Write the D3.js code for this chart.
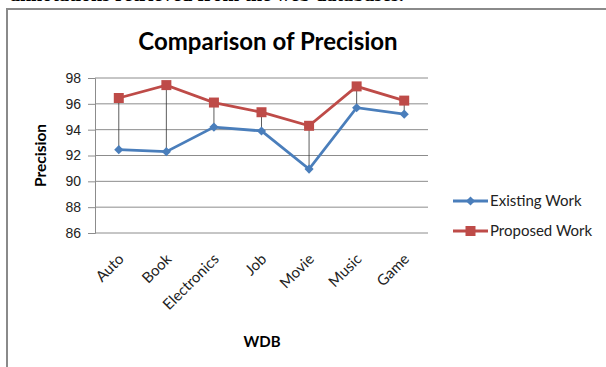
<!doctype html>
<html>
<head>
<meta charset="utf-8">
<script src="https://d3js.org/d3.v7.min.js"></script>
<style>
  body { margin: 0; background: #fff; }
  svg { display: block; font-family: Lato, "Open Sans", sans-serif; }
</style>
</head>
<body>
<svg width="606" height="367"></svg>
<script>
var categories = ["Auto", "Book", "Electronics", "Job", "Movie", "Music", "Game"];
var existing = [92.45, 92.3, 94.2, 93.9, 90.95, 95.7, 95.2];
var proposed = [96.45, 97.45, 96.1, 95.35, 94.3, 97.35, 96.25];
var yTicks = [86, 88, 90, 92, 94, 96, 98];

var svg = d3.select("svg");

// frame of the figure (cut from a page)
svg.append("text")
    .attr("x", 10).attr("y", 1)
    .style("font-family", "'Liberation Serif', serif")
    .style("font-size", "20px")
    .style("font-weight", "bold")
    .text("annotations retrieved from the web databases.");
svg.append("path")
    .attr("d", "M7,367V9H606")
    .attr("fill", "none")
    .attr("stroke", "#8a8a8a")
    .attr("stroke-width", 2);

var plotLeft = 95, plotRight = 428, plotTop = 78, plotBottom = 233;

var x = d3.scaleBand().domain(categories).range([plotLeft, plotRight]);
var y = d3.scaleLinear().domain([86, 98]).range([plotBottom, plotTop]);

// title
svg.append("text")
    .attr("x", 268).attr("y", 50)
    .attr("text-anchor", "middle")
    .style("font-size", "24px")
    .style("font-weight", "bold")
    .text("Comparison of Precision");

// gridlines
svg.append("g").selectAll("line")
  .data(yTicks)
  .join("line")
    .attr("x1", plotLeft).attr("x2", plotRight)
    .attr("y1", function(d) { return y(d); })
    .attr("y2", function(d) { return y(d); })
    .attr("stroke", "#8c8c8c")
    .attr("stroke-width", 1);

// y axis
var yAxis = svg.append("g")
    .attr("transform", "translate(" + plotLeft + ",0)")
    .call(d3.axisLeft(y).tickValues(yTicks).tickSize(7).tickPadding(7));
yAxis.select(".domain").attr("stroke", "#8c8c8c");
yAxis.selectAll(".tick line").attr("stroke", "#8c8c8c");
yAxis.selectAll("text").style("font-size", "14px").attr("fill", "#222");

svg.append("text")
    .attr("transform", "translate(46," + ((plotTop + plotBottom) / 2) + ") rotate(-90)")
    .attr("text-anchor", "middle")
    .style("font-size", "15.5px")
    .style("font-weight", "bold")
    .text("Precision");

// x labels
svg.append("g").selectAll("text")
  .data(categories)
  .join("text")
    .attr("transform", function(d) {
      return "translate(" + (x(d) + x.bandwidth() / 2 + 6) + "," + (plotBottom + 27) + ") rotate(-45)";
    })
    .attr("text-anchor", "end")
    .style("font-size", "15px")
    .attr("fill", "#222")
    .text(function(d) { return d; });

svg.append("text")
    .attr("x", 262).attr("y", 347)
    .attr("text-anchor", "middle")
    .style("font-size", "15px")
    .style("font-weight", "bold")
    .text("WDB");

var cx = function(i) { return x(categories[i]) + x.bandwidth() / 2; };

// high-low lines
svg.append("g").selectAll("line")
  .data(categories)
  .join("line")
    .attr("x1", function(d, i) { return cx(i); })
    .attr("x2", function(d, i) { return cx(i); })
    .attr("y1", function(d, i) { return y(proposed[i]); })
    .attr("y2", function(d, i) { return y(existing[i]); })
    .attr("stroke", "#333")
    .attr("stroke-width", 0.8);

var line = d3.line()
    .x(function(d, i) { return cx(i); })
    .y(function(d) { return y(d); });

var series = [
  { name: "Existing Work", values: existing, color: "#4a7ebb", rot: 45, size: 42 },
  { name: "Proposed Work", values: proposed, color: "#be4b48", rot: 0, size: 100 }
];

series.forEach(function(s) {
  svg.append("path")
      .datum(s.values)
      .attr("d", line)
      .attr("fill", "none")
      .attr("stroke", s.color)
      .attr("stroke-width", 2.8);
  svg.append("g").selectAll("path")
    .data(s.values)
    .join("path")
      .attr("transform", function(d, i) { return "translate(" + cx(i) + "," + y(d) + ") rotate(" + s.rot + ")"; })
      .attr("d", d3.symbol().type(d3.symbolSquare).size(s.size))
      .attr("fill", s.color);
});

// legend
var legend = svg.append("g").selectAll("g")
  .data(series)
  .join("g")
    .attr("transform", function(d, i) { return "translate(453," + (201 + i * 30) + ")"; });
legend.append("line")
    .attr("x1", 0).attr("x2", 35)
    .attr("stroke", function(d) { return d.color; })
    .attr("stroke-width", 2.8);
legend.append("path")
    .attr("transform", function(d) { return "translate(17.5,0) rotate(" + d.rot + ")"; })
    .attr("d", function(d) { return d3.symbol().type(d3.symbolSquare).size(d.size)(); })
    .attr("fill", function(d) { return d.color; });
legend.append("text")
    .attr("x", 37).attr("dy", "0.35em")
    .style("font-size", "15px")
    .attr("fill", "#222")
    .text(function(d) { return d.name; });
</script>
</body>
</html>
